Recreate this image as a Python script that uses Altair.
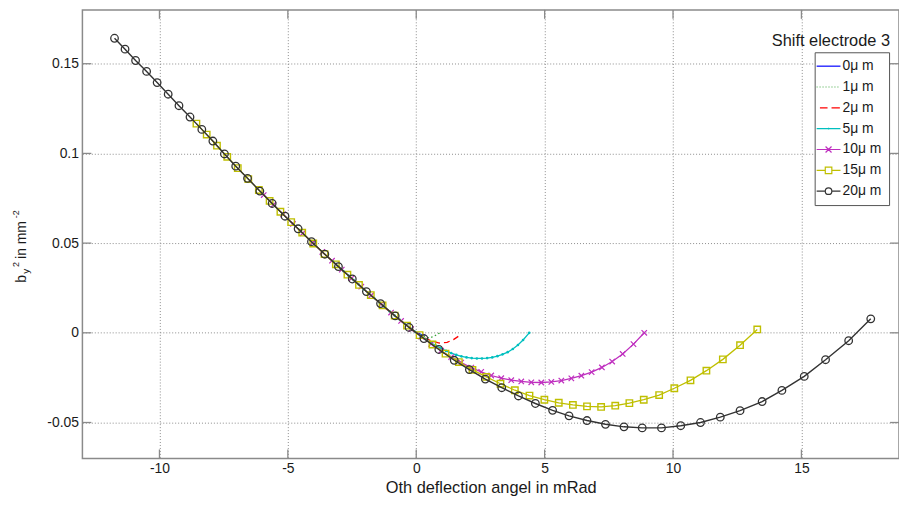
import altair as alt
import pandas as pd

FONT = "Liberation Sans"
TXT = "#1a1a1a"
FRAME = "#8a8a8a"

series_names = ["0\u03bc m", "1\u03bc m", "2\u03bc m", "5\u03bc m", "10\u03bc m", "15\u03bc m", "20\u03bc m"]
line_colors = ["#0000ff", "#2e9e2e", "#ff0000", "#00bfbf", "#bf2fbf", "#bfbf00", "#333333"]

x_ticks = [-10, -5, 0, 5, 10, 15]
y_ticks = [-0.05, 0, 0.05, 0.1, 0.15]

# 0 um
x0 = [-0.25, 0.0, 0.2, 0.35]
y0 = [0.0028, 0.0002, -0.0010, -0.0012]
# 1 um
x1 = [-0.60, -0.40, -0.20, 0.00, 0.20, 0.40, 0.55, 0.70, 0.83, 0.95]
y1 = [0.0068, 0.0046, 0.0024, 0.0003, -0.0015, -0.0027, -0.0027, -0.0018, -0.0008, 0.0003]
# 2 um
x2 = [-1.20, -0.90, -0.60, -0.30, 0.00, 0.30, 0.60, 0.90, 1.20, 1.45, 1.71]
y2 = [0.0137, 0.0103, 0.0068, 0.0034, 0.0002, -0.0026, -0.0046, -0.0057, -0.0053, -0.0038, -0.0013]
# 5 um
x5 = [-3.24, -3.04, -2.84, -2.64, -2.44, -2.24, -2.04, -1.84, -1.64, -1.44, -1.24, -1.04, -0.84,
      -0.64, -0.44, -0.24, -0.04, 0.16, 0.36, 0.56, 0.76, 0.96, 1.16, 1.36, 1.56, 1.76, 1.96,
      2.16, 2.36, 2.56, 2.76, 2.96, 3.16, 3.36, 3.56, 3.76, 3.96, 4.16, 4.40]
y5 = [0.0398, 0.0370, 0.0344, 0.0319, 0.0294, 0.0269, 0.0243, 0.0218, 0.0194, 0.0170, 0.0145,
      0.0120, 0.0096, 0.0073, 0.0050, 0.0027, 0.0005, -0.0016, -0.0036, -0.0054, -0.0071,
      -0.0087, -0.0101, -0.0113, -0.0123, -0.0131, -0.0137, -0.0141, -0.0143, -0.0143,
      -0.0141, -0.0137, -0.0130, -0.0120, -0.0108, -0.0090, -0.0068, -0.0040, 0.0000]
# 10 um
x10 = [-5.94, -5.56, -5.18, -4.80, -4.42, -4.04, -3.66, -3.28, -2.90, -2.52, -2.14, -1.76, -1.37,
       -0.98, -0.59, -0.20, 0.19, 0.58, 0.97, 1.36, 1.75, 2.14, 2.53, 2.92, 3.31, 3.70, 4.09,
       4.48, 4.87, 5.26, 5.65, 6.04, 6.43, 6.83, 7.23, 7.63, 8.04, 8.46, 8.88]
y10 = [0.0768, 0.0714, 0.0660, 0.0607, 0.0555, 0.0502, 0.0451, 0.0402, 0.0352, 0.0304, 0.0257,
       0.0208, 0.0160, 0.0113, 0.0066, 0.0021, -0.0021, -0.0062, -0.0100, -0.0135, -0.0166,
       -0.0194, -0.0218, -0.0238, -0.0253, -0.0264, -0.0271, -0.0276, -0.0277, -0.0274,
       -0.0266, -0.0254, -0.0239, -0.0219, -0.0193, -0.0160, -0.0118, -0.0063, 0.0000]
# 15 um
x15 = [-8.56, -8.16, -7.76, -7.36, -6.95, -6.54, -6.13, -5.71, -5.29, -4.87, -4.44, -4.01, -3.57,
       -3.13, -2.68, -2.23, -1.77, -1.31, -0.84, -0.36, 0.13, 0.63, 1.14, 1.66, 2.19, 2.73, 3.28,
       3.84, 4.41, 4.99, 5.55, 6.10, 6.65, 7.20, 7.75, 8.30, 8.86, 9.46, 10.05, 10.68, 11.30,
       11.94, 12.61, 13.28]
y15 = [0.1166, 0.1105, 0.1043, 0.0981, 0.0918, 0.0857, 0.0796, 0.0735, 0.0675, 0.0617, 0.0558,
       0.0498, 0.0439, 0.0382, 0.0324, 0.0267, 0.0210, 0.0153, 0.0096, 0.0040, -0.0013, -0.0065,
       -0.0116, -0.0163, -0.0207, -0.0246, -0.0284, -0.0320, -0.0350, -0.0373, -0.0390, -0.0402,
       -0.0410, -0.0413, -0.0406, -0.0392, -0.0373, -0.0347, -0.0309, -0.0265, -0.0211, -0.0148,
       -0.0069, 0.0019]
# 20 um
x20 = [-11.75, -11.34, -10.93, -10.50, -10.09, -9.66, -9.24, -8.81, -8.35, -7.92, -7.47, -7.03,
       -6.57, -6.09, -5.61, -5.11, -4.60, -4.08, -3.56, -3.03, -2.49, -1.94, -1.39, -0.82, -0.28,
       0.30, 0.88, 1.48, 2.07, 2.69, 3.33, 3.98, 4.64, 5.31, 5.95, 6.65, 7.37, 8.09, 8.80, 9.55,
       10.30, 11.07, 11.84, 12.61, 13.47, 14.24, 15.11, 15.94, 16.84, 17.70]
y20 = [0.1642, 0.1581, 0.1518, 0.1457, 0.1395, 0.1330, 0.1266, 0.1203, 0.1134, 0.1069, 0.0997,
       0.0929, 0.0861, 0.0790, 0.0721, 0.0650, 0.0580, 0.0508, 0.0438, 0.0369, 0.0300, 0.0230,
       0.0163, 0.0094, 0.0030, -0.0032, -0.0093, -0.0153, -0.0205, -0.0258, -0.0306, -0.0352,
       -0.0394, -0.0432, -0.0463, -0.0489, -0.0510, -0.0524, -0.0530, -0.0530, -0.0518, -0.0500,
       -0.0470, -0.0434, -0.0383, -0.0321, -0.0243, -0.0150, -0.0044, 0.0078]

PW, PH = 823, 452

x_scale = alt.Scale(domain=[-13, 18.8], nice=False, zero=False)
y_scale = alt.Scale(domain=[-0.07, 0.18], nice=False, zero=False)

common_axis = dict(grid=True, gridDash=[1, 2], gridColor="#8c8c8c", gridWidth=1, tickSize=0,
                   domain=False, labelExpr="'' + datum.value", labelFontSize=14, labelFont=FONT,
                   labelColor=TXT, titleFont=FONT, titleColor=TXT, titleFontWeight="normal")
x_axis = alt.Axis(values=x_ticks, title="Oth deflection angel in mRad", labelPadding=3,
                  titleFontSize=16.5, titlePadding=4, **common_axis)
y_axis = alt.Axis(values=y_ticks, title=None, labelPadding=4, **common_axis)
X = alt.X("x:Q", scale=x_scale, axis=x_axis)
Y = alt.Y("y:Q", scale=y_scale, axis=y_axis)


def frame(xs, ys):
    return pd.DataFrame({"x": xs, "y": ys, "i": list(range(len(xs)))})


def line_layer(xs, ys, color, width=1.3, **kw):
    return alt.Chart(frame(xs, ys)).mark_line(color=color, strokeWidth=width, clip=True, **kw).encode(
        x=X, y=Y, order="i:Q")


def point_layer(xs, ys, color, shape, size, filled=False, sw=1.2):
    return alt.Chart(frame(xs, ys)).mark_point(shape=shape, size=size, filled=filled, color=color,
                                               strokeWidth=sw, opacity=1, clip=True).encode(x=X, y=Y)


layers = [
    line_layer(x0, y0, line_colors[0]),
    line_layer(x1, y1, line_colors[1], strokeDash=[1.5, 2.5]),
    line_layer(x2, y2, line_colors[2], strokeDash=[6, 4]),
    line_layer(x5, y5, line_colors[3]),
    point_layer(x5, y5, line_colors[3], "circle", 7, filled=True),
    line_layer(x10, y10, line_colors[4]),
    point_layer(x10, y10, line_colors[4], "M-1,-1L1,1M-1,1L1,-1", 30),
    line_layer(x15, y15, line_colors[5]),
    point_layer(x15, y15, line_colors[5], "square", 42, sw=1.4),
    line_layer(x20, y20, line_colors[6], width=1.4),
    point_layer(x20, y20, line_colors[6], "circle", 58, sw=1.3),
]

# inward ticks on all four sides
xt = pd.DataFrame({"x": x_ticks})
yt = pd.DataFrame({"y": y_ticks})
layers += [
    alt.Chart(xt).mark_rule(color=FRAME, strokeWidth=1.3).encode(x=X, y=alt.value(PH), y2=alt.value(PH - 9)),
    alt.Chart(xt).mark_rule(color=FRAME, strokeWidth=1.3).encode(x=X, y=alt.value(0), y2=alt.value(9)),
    alt.Chart(yt).mark_rule(color=FRAME, strokeWidth=1.3).encode(y=Y, x=alt.value(0), x2=alt.value(9)),
    alt.Chart(yt).mark_rule(color=FRAME, strokeWidth=1.3).encode(y=Y, x=alt.value(PW), x2=alt.value(PW - 9)),
]

# legend (line + marker samples)
dotted = "M-2,0H-1.85M-1.5,0H-1.35M-1,0H-0.85M-0.5,0H-0.35M0,0H0.15M0.5,0H0.65M1,0H1.15M1.5,0H1.65"
legend_paths = [
    "M-2,0H2",
    dotted,
    "M-1.45,0H-0.17M0.5,0H1.9",
    "M-2,0H2M0,-0.15V0.15",
    "M-2,0H2M-0.5,-0.5L0.5,0.5M-0.5,0.5L0.5,-0.5",
    "M-2,0H-0.55M0.55,0H2M-0.55,-0.55H0.55V0.55H-0.55Z",
    "M-2,0H-0.55M0.55,0H2M-0.55,0A0.55,0.55 0 1,0 0.55,0A0.55,0.55 0 1,0 -0.55,0",
]
leg = alt.Legend(title=None, orient="none", legendX=738, legendY=42.7, direction="vertical",
                 strokeColor="#555", fillColor="white", padding=7, symbolSize=144,
                 symbolStrokeWidth=1.2, symbolFillColor="transparent", labelFontSize=14,
                 labelFont=FONT, labelColor=TXT, labelAlign="left", rowPadding=7, labelOffset=7)
leg_df = pd.DataFrame({"series": series_names, "x": [1000.0] * 7, "y": [0.0] * 7})
layers.append(
    alt.Chart(leg_df).mark_point(filled=False, opacity=1, clip=True, strokeWidth=1.2).encode(
        x=X, y=Y,
        color=alt.Color("series:N", scale=alt.Scale(domain=series_names, range=line_colors), legend=leg),
        shape=alt.Shape("series:N", scale=alt.Scale(domain=series_names, range=legend_paths), legend=leg),
    )
)


def txt(text, px, py, size, angle=0, align="left"):
    return alt.Chart(pd.DataFrame({"t": [text]})).mark_text(
        text=text, fontSize=size, font=FONT, color=TXT, angle=angle, align=align,
        baseline="alphabetic").encode(x=alt.value(px), y=alt.value(py))


layers += [
    txt("Shift electrode 3", 814, 36, 16.5, align="right"),
    txt("b", -56.5, 275, 14, angle=270),
    txt("y", -53.5, 266, 10, angle=270),
    txt("2", -64, 259, 9, angle=270),
    txt("in mm", -56.5, 251, 14, angle=270),
    txt("-2", -64, 210, 9, angle=270),
]

chart = alt.layer(*layers).properties(
    width=PW, height=PH,
    padding={"left": 75, "top": 0, "right": 0, "bottom": 38},
    autosize=alt.AutoSizeParams(type="none"),
).configure_view(stroke=FRAME, strokeWidth=1.5)

chart.save("out.html", embed_options={"renderer": "svg", "actions": False})
